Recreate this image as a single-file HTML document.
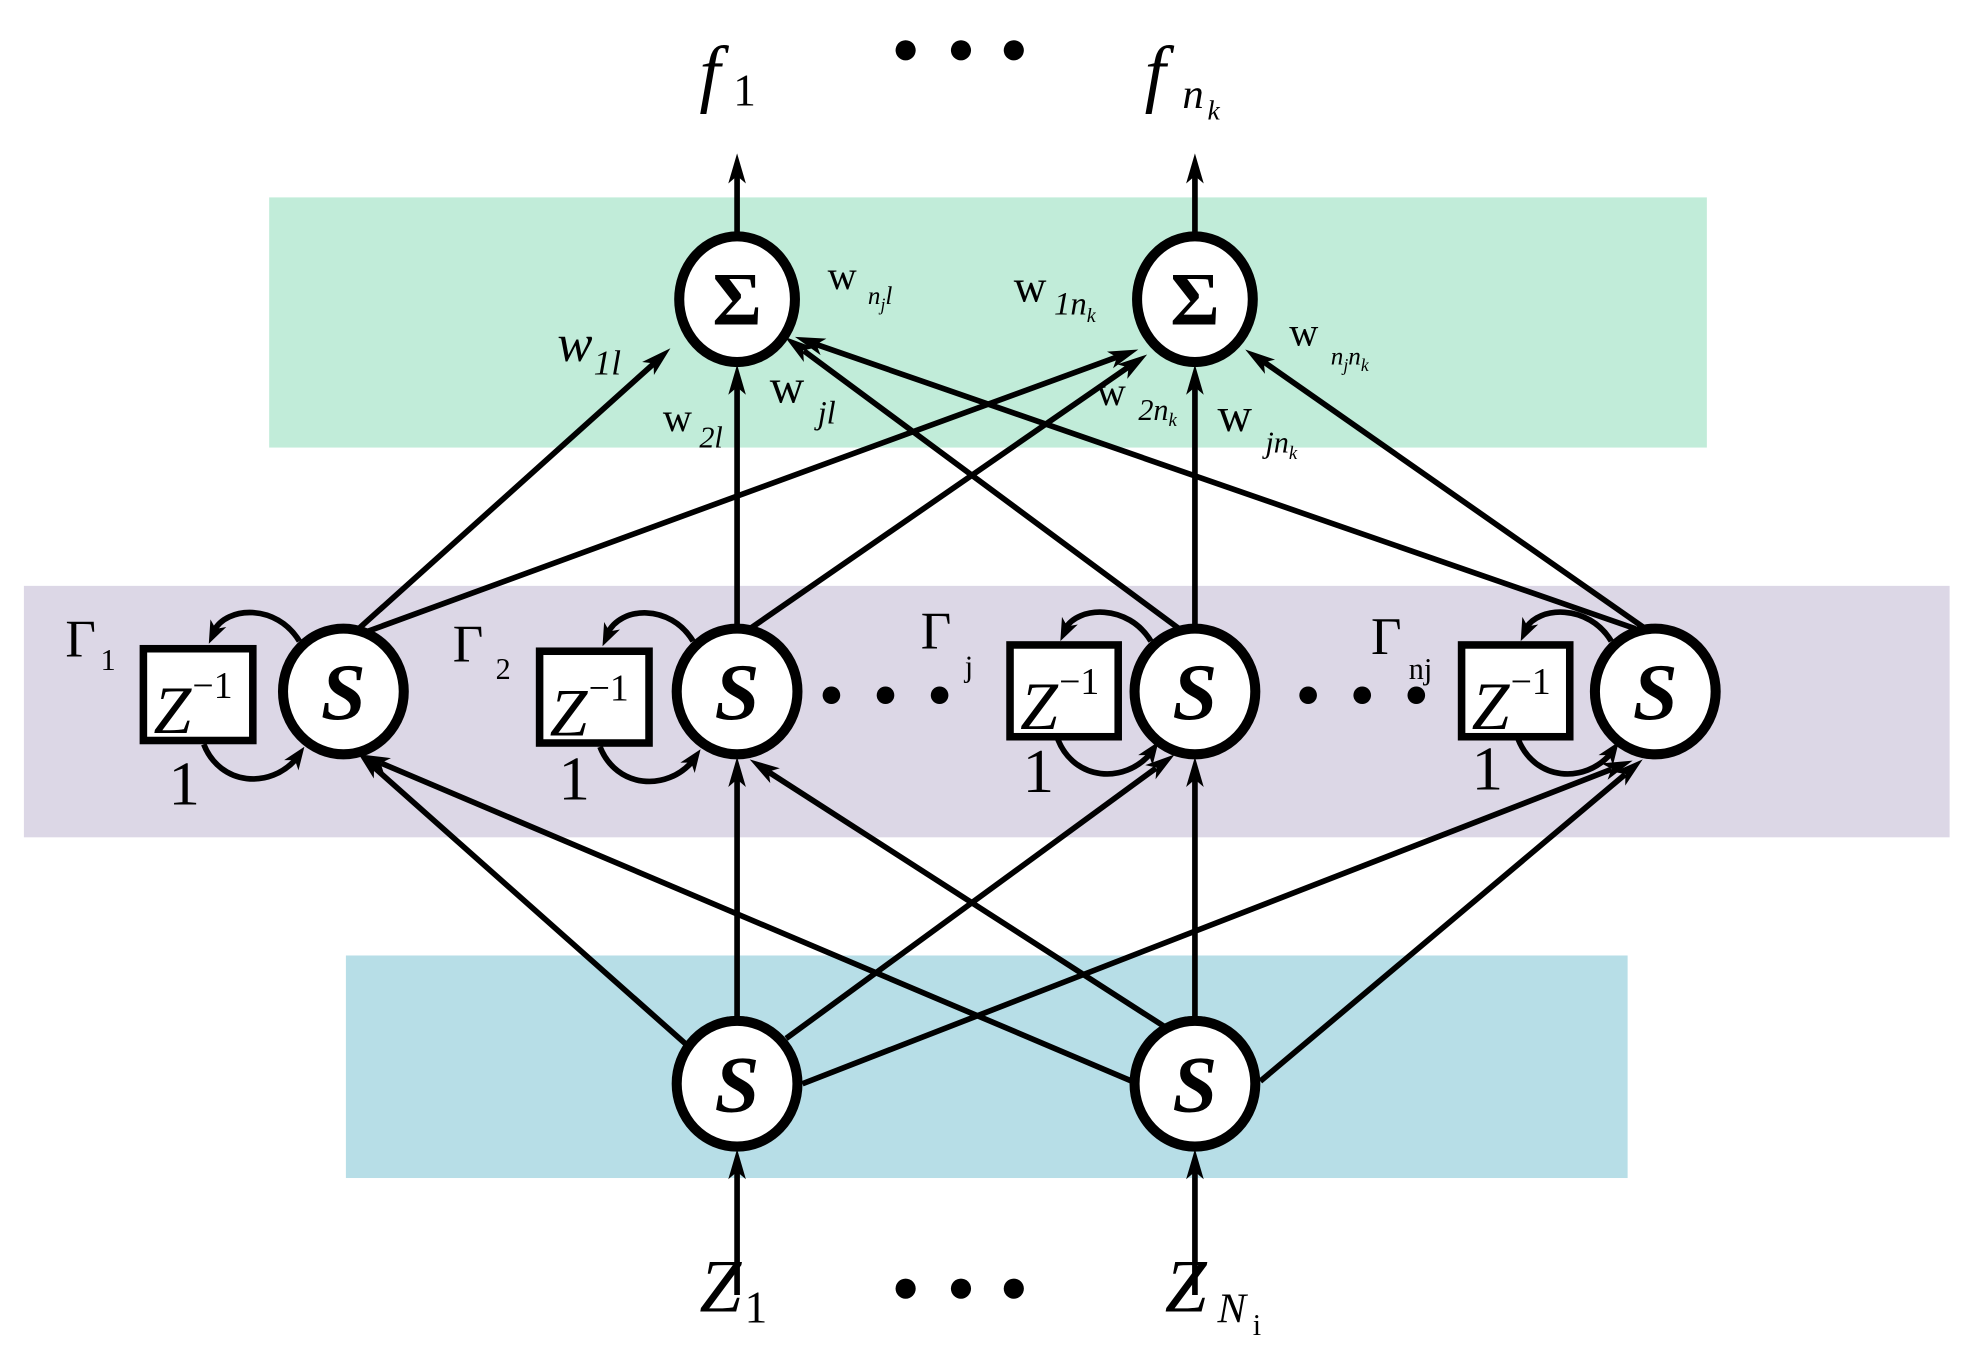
<!DOCTYPE html>
<html><head><meta charset="utf-8"><style>
html,body{margin:0;padding:0;background:#fff}
svg{display:block}
svg text{font-family:"Liberation Serif","Times New Roman",serif;fill:#000}
</style></head><body>
<svg width="1971" height="1349" viewBox="0 0 1567 1073" preserveAspectRatio="none" xmlns="http://www.w3.org/2000/svg" font-family="Liberation Serif, serif">
<defs>
<polygon id="ht" points="0,0 1.3,-19.3 5.5,-11.8 13.9,-13.3"/>
<polygon id="hb" points="0,0 -4.7,18.8 -7.5,10.6 -16.1,10.6"/>
<polygon id="hv" points="0,0 7,24 0,18 -7,24"/>
</defs>
<rect x="214" y="157" width="1143" height="199" fill="#c1ecd9"/>
<rect x="19" y="466" width="1531" height="200" fill="#dcd7e6"/>
<rect x="275" y="760" width="1019" height="177" fill="#b7dee7"/>

<g stroke="#000" stroke-width="4.5" fill="none">
<line x1="586" y1="188" x2="586" y2="135"/>
<line x1="950" y1="188" x2="950" y2="135"/>
<line x1="586" y1="1030" x2="586" y2="926"/>
<line x1="950" y1="1030" x2="950" y2="926"/>
<line x1="283" y1="502" x2="520" y2="289"/>
<line x1="290" y1="503" x2="888" y2="284"/>
<line x1="586" y1="500" x2="586" y2="305"/>
<line x1="592" y1="503" x2="897" y2="292"/>
<line x1="940" y1="502" x2="639" y2="279"/>
<line x1="950" y1="500" x2="950" y2="305"/>
<line x1="1300" y1="500" x2="649" y2="274"/>
<line x1="1308" y1="500" x2="1005" y2="288"/>
<line x1="574" y1="856" x2="297" y2="610"/>
<line x1="586" y1="812" x2="586" y2="617"/>
<line x1="625" y1="826" x2="919" y2="611"/>
<line x1="638" y1="862" x2="1281" y2="612"/>
<line x1="900" y1="860" x2="303" y2="607"/>
<line x1="928" y1="818" x2="611" y2="614"/>
<line x1="950" y1="812" x2="950" y2="617"/>
<line x1="1002" y1="860" x2="1292" y2="616"/>
<path d="M238,510 C220,480 180,482 170,502"/>
<path d="M162,592 C175,625 215,628 236,603"/>
<path d="M551,510 C533,480 493,482 483,504"/>
<path d="M477,594 C490,627 530,630 551,605"/>
<path d="M915,510 C897,480 857,482 847,500"/>
<path d="M841,588 C854,621 894,624 915,599"/>
<path d="M1281,510 C1263,480 1223,482 1213,500"/>
<path d="M1207,588 C1220,621 1260,624 1281,599"/>
</g>

<g fill="#000">
<use href="#hv" x="586" y="122"/>
<use href="#hv" x="950" y="122"/>
<use href="#hv" x="586" y="914"/>
<use href="#hv" x="950" y="914"/>
<use href="#hv" x="586" y="290"/>
<use href="#hv" x="950" y="290"/>
<use href="#hv" x="586" y="602"/>
<use href="#hv" x="950" y="602"/>
<polygon points="533,277 519.9,298.3 519.6,289.0 510.5,287.9"/>
<polygon points="905,278 884.9,292.9 888.1,284.2 880.1,279.7"/>
<polygon points="912,282 896.2,301.4 897.2,292.2 888.2,289.8"/>
<polygon points="624,268 647.5,276.7 638.5,278.7 639.1,287.9"/>
<polygon points="632,268 657.0,269.3 649.0,273.9 652.4,282.5"/>
<polygon points="990,278 1013.7,286.0 1004.8,288.3 1005.7,297.4"/>
<polygon points="284,598 306.6,608.8 297.4,610.0 297.2,619.2"/>
<polygon points="934,600 918.7,619.8 919.5,610.6 910.5,608.6"/>
<polygon points="1298,605 1278.1,620.2 1281.2,611.5 1273.1,607.2"/>
<polygon points="286,600 310.8,603.0 302.6,607.0 305.4,615.8"/>
<polygon points="596,604 620.0,611.1 611.1,613.8 612.4,622.9"/>
<polygon points="1306,604 1292.1,624.9 1292.2,615.6 1283.1,614.1"/>
<use href="#ht" x="166" y="512"/>
<use href="#ht" x="479" y="514"/>
<use href="#ht" x="843" y="510"/>
<use href="#ht" x="1209" y="510"/>
<use href="#hb" x="242" y="594"/>
<use href="#hb" x="557" y="596"/>
<use href="#hb" x="921" y="590"/>
<use href="#hb" x="1287" y="590"/>
</g>

<g stroke="#000" stroke-width="8" fill="#fff">
<ellipse cx="586" cy="238" rx="46" ry="50"/>
<ellipse cx="950" cy="238" rx="46" ry="50"/>
<ellipse cx="273" cy="550" rx="48" ry="50"/>
<ellipse cx="586" cy="550" rx="48" ry="50"/>
<ellipse cx="950" cy="550" rx="48" ry="50"/>
<ellipse cx="1316" cy="550" rx="48" ry="50"/>
<ellipse cx="586" cy="862" rx="48" ry="50"/>
<ellipse cx="950" cy="862" rx="48" ry="50"/>
</g>
<g stroke="#000" stroke-width="6" fill="#fff">
<rect x="114" y="516" width="87" height="73"/>
<rect x="429" y="518" width="87" height="73"/>
<rect x="803" y="513" width="86" height="73"/>
<rect x="1162" y="513" width="86" height="73"/>
</g>

<g font-size="64" font-weight="bold" font-style="italic" text-anchor="middle">
<text x="273" y="572">S</text><text x="586" y="572">S</text><text x="950" y="572">S</text><text x="1316" y="572">S</text>
<text x="586" y="884">S</text><text x="950" y="884">S</text>
</g>
<g font-size="60" font-weight="bold" text-anchor="middle">
<text x="586" y="258">Σ</text><text x="950" y="258">Σ</text>
</g>

<g font-size="54" font-style="italic">
<text x="122" y="583">Z</text><text x="437" y="585">Z</text><text x="811" y="580">Z</text><text x="1170" y="580">Z</text>
</g>
<g font-size="30">
<text x="153" y="555">−1</text><text x="468" y="557">−1</text><text x="842" y="552">−1</text><text x="1201" y="552">−1</text>
</g>
<g font-size="50">
<text x="134" y="640">1</text><text x="444" y="636">1</text><text x="813" y="630">1</text><text x="1170" y="628">1</text>
</g>
<g font-size="42">
<text x="52" y="522">Γ</text><text x="360" y="526">Γ</text><text x="732" y="516">Γ</text><text x="1090" y="520">Γ</text>
</g>
<g font-size="24">
<text x="80" y="533">1</text><text x="394" y="540">2</text><text x="767" y="538">j</text><text x="1120" y="540">nj</text>
</g>

<g font-size="60" font-style="italic">
<text x="556" y="78">f</text><text x="910" y="78">f</text>
<text x="556" y="1043">Z</text><text x="926" y="1043">Z</text>
</g>
<g font-size="36"><text x="583" y="84">1</text><text x="592" y="1052">1</text></g>
<g font-size="34" font-style="italic"><text x="940" y="86">n</text><text x="968" y="1052">N</text></g>
<g font-size="22" font-style="italic"><text x="960" y="95">k</text></g>
<g font-size="24"><text x="996" y="1062">i</text></g>
<g fill="#000">
<circle cx="720" cy="40" r="8"/><circle cx="764" cy="40" r="8"/><circle cx="806" cy="40" r="8"/>
<circle cx="720" cy="1025" r="8"/><circle cx="764" cy="1025" r="8"/><circle cx="806" cy="1025" r="8"/>
<circle cx="661" cy="553" r="7"/><circle cx="704" cy="553" r="7"/><circle cx="747" cy="553" r="7"/>
<circle cx="1040" cy="553" r="7"/><circle cx="1083" cy="553" r="7"/><circle cx="1126" cy="553" r="7"/>
</g>

<text x="443" y="287" font-size="42" font-style="italic">w</text>
<text x="472" y="298" font-size="28" font-style="italic">1l</text>
<text x="658" y="230" font-size="32">w</text>
<text x="690" y="242" font-size="20" font-style="italic">n<tspan font-size="14" dy="5">j</tspan><tspan dy="-5">l</tspan></text>
<text x="806" y="240" font-size="36">w</text>
<text x="838" y="250" font-size="26" font-style="italic">1n<tspan font-size="16" dy="6">k</tspan></text>
<text x="1025" y="275" font-size="32">w</text>
<text x="1058" y="290" font-size="20" font-style="italic">n<tspan font-size="14" dy="5">j</tspan><tspan dy="-5">n</tspan><tspan font-size="14" dy="5">k</tspan></text>
<text x="527" y="343" font-size="32">w</text>
<text x="556" y="356" font-size="24" font-style="italic">2l</text>
<text x="612" y="320" font-size="38">w</text>
<text x="650" y="337" font-size="26" font-style="italic">jl</text>
<text x="872" y="322" font-size="32">w</text>
<text x="905" y="334" font-size="24" font-style="italic">2n<tspan font-size="15" dy="5">k</tspan></text>
<text x="968" y="343" font-size="38">w</text>
<text x="1006" y="360" font-size="24" font-style="italic">jn<tspan font-size="15" dy="5">k</tspan></text>
</svg>
</body></html>
